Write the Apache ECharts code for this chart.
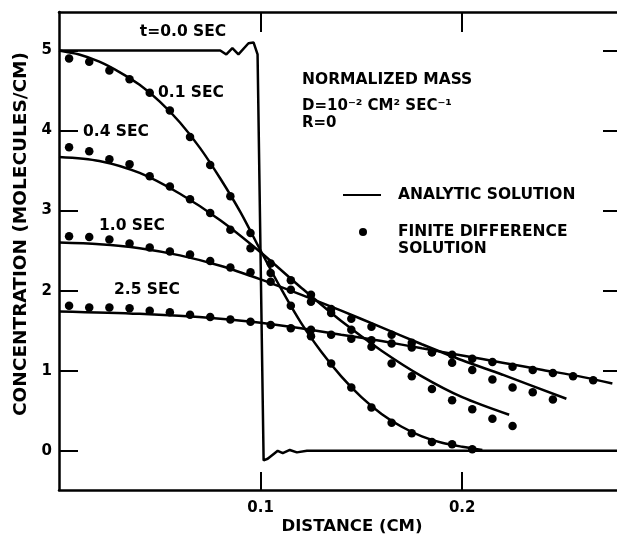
<!DOCTYPE html>
<html>
<head>
<meta charset="utf-8">
<script src="https://cdn.jsdelivr.net/npm/echarts@6/dist/echarts.min.js"></script>
<style>
html,body{margin:0;padding:0;background:#fff;}
#chart{width:617px;height:539px;}
</style>
</head>
<body>
<div id="chart"></div>
<script>
// ---- Data ----
const xTickValues = [0.1, 0.2];
const xTickLabels = ['0.1', '0.2'];
const yTickValues = [0, 1, 2, 3, 4, 5];
const yTickLabels = ['0', '1', '2', '3', '4', '5'];

// finite-difference points (x positions in cm)
const dotX = [0.005,0.015,0.025,0.035,0.045,0.055,0.065,0.075,0.085,0.095,0.105,0.115,0.125,0.135,0.145,0.155,0.165,0.175,0.185,0.195,0.205,0.215,0.225,0.235,0.245,0.255,0.265];
const fd01 = [4.90,4.86,4.75,4.64,4.47,4.25,3.92,3.57,3.18,2.72,2.22,1.81,1.43,1.09,0.79,0.54,0.35,0.22,0.11,0.08,0.02];
const fd04 = [3.79,3.74,3.64,3.58,3.43,3.30,3.14,2.97,2.76,2.53,2.34,2.13,1.95,1.72,1.51,1.30,1.09,0.93,0.77,0.63,0.52,0.40,0.31];
const fd10 = [2.68,2.67,2.64,2.59,2.54,2.49,2.45,2.37,2.29,2.23,2.11,2.01,1.86,1.77,1.65,1.55,1.45,1.35,1.23,1.10,1.01,0.89,0.79,0.73,0.64];
const fd25 = [1.81,1.79,1.79,1.78,1.75,1.73,1.70,1.67,1.64,1.61,1.57,1.53,1.51,1.45,1.40,1.38,1.34,1.29,1.23,1.20,1.15,1.11,1.05,1.01,0.97,0.93,0.88];

// analytic solutions
const an00X = [0,0.080,0.083,0.086,0.089,0.094,0.0965,0.0985,0.1015,0.1035,0.1065,0.1085,0.111,0.1145,0.118,0.123,0.2768];
const an00Y = [5,5,4.95,5.03,4.95,5.09,5.10,4.95,-0.12,-0.10,-0.04,0,-0.03,0.01,-0.02,0,0];
const an01X = [0,0.01,0.02,0.03,0.04,0.05,0.06,0.07,0.08,0.09,0.1,0.11,0.12,0.13,0.14,0.15,0.16,0.17,0.18,0.19,0.2,0.21];
const an01Y = [5.0,4.95,4.86,4.73,4.57,4.36,4.10,3.78,3.40,2.98,2.50,2.03,1.60,1.24,0.93,0.67,0.46,0.30,0.18,0.10,0.05,0.01];
const an04X = [0,0.02,0.04,0.06,0.08,0.1,0.12,0.14,0.16,0.18,0.2,0.2233];
const an04Y = [3.67,3.62,3.47,3.21,2.88,2.48,2.04,1.62,1.25,0.93,0.67,0.45];
const an10X = [0,0.02,0.04,0.06,0.08,0.1,0.12,0.14,0.16,0.18,0.2,0.22,0.2517];
const an10Y = [2.60,2.58,2.53,2.44,2.31,2.14,1.95,1.75,1.54,1.33,1.13,0.95,0.65];
const an25X = [0,0.04,0.08,0.1,0.12,0.14,0.16,0.18,0.2,0.22,0.24,0.26,0.2745];
const an25Y = [1.74,1.71,1.65,1.60,1.53,1.45,1.37,1.28,1.19,1.10,1.01,0.92,0.84];

const curveLabels = ['t=0.0 SEC', '0.1 SEC', '0.4 SEC', '1.0 SEC', '2.5 SEC'];

// ---- Chart ----
const FONT = '"DejaVu Sans", sans-serif';
const pair = (xs, ys) => ys.map((y, i) => [xs[i], y]);

const lineSeries = (xs, ys, smooth) => ({
  type: 'line', name: 'ANALYTIC SOLUTION', data: pair(xs, ys),
  showSymbol: false, symbol: 'none', smooth: smooth,
  lineStyle: { color: '#000', width: 2.5, opacity: 1 }, z: 2, silent: true
});
const dotSeries = (ys) => ({
  type: 'scatter', name: 'FINITE DIFFERENCE SOLUTION', data: pair(dotX, ys),
  symbol: 'circle', symbolSize: 8.5, itemStyle: { color: '#000', opacity: 1 }, z: 3, silent: true
});

const chart = echarts.init(document.getElementById('chart'), null, { renderer: 'canvas' });

const axisLineStyle = { show: true, onZero: false, lineStyle: { color: '#000', width: 2.5 } };
const tickStyle = { color: '#000', width: 2 };

function txt(text, x, y, size, align) {
  return {
    type: 'text', x: x, y: y,
    style: {
      text: text, fill: '#000', font: 'bold ' + size + 'px ' + FONT,
      textAlign: align || 'center', textVerticalAlign: 'middle'
    }
  };
}

const option = {
  animation: false,
  backgroundColor: '#fff',
  grid: { left: 59, top: 12, width: 562, height: 478, containLabel: false },
  xAxis: [
    {
      type: 'value', position: 'bottom', min: 0, max: 0.2768,
      axisLine: axisLineStyle,
      axisTick: { show: true, inside: true, length: 18, customValues: xTickValues, lineStyle: tickStyle },
      axisLabel: {
        show: true, customValues: xTickValues, margin: 11,
        formatter: v => xTickLabels[xTickValues.indexOf(v)] || '',
        color: '#000', fontFamily: FONT, fontWeight: 'bold', fontSize: 15
      },
      splitLine: { show: false }
    },
    {
      type: 'value', position: 'top', min: 0, max: 0.2768,
      axisLine: axisLineStyle,
      axisTick: { show: true, inside: true, length: 20, customValues: xTickValues, lineStyle: tickStyle },
      axisLabel: { show: false },
      splitLine: { show: false }
    }
  ],
  yAxis: [
    {
      type: 'value', position: 'left', min: -0.49, max: 5.48,
      axisLine: axisLineStyle,
      axisTick: { show: true, inside: true, length: 19, customValues: yTickValues, lineStyle: tickStyle },
      axisLabel: {
        show: true, customValues: yTickValues, margin: 7,
        formatter: v => yTickLabels[yTickValues.indexOf(v)] || '',
        color: '#000', fontFamily: FONT, fontWeight: 'bold', fontSize: 15
      },
      splitLine: { show: false }
    },
    {
      type: 'value', position: 'right', min: -0.49, max: 5.48,
      axisLine: { show: false, onZero: false },
      axisTick: { show: true, inside: true, length: 14, customValues: yTickValues, lineStyle: tickStyle },
      axisLabel: { show: false },
      splitLine: { show: false }
    }
  ],
  series: [
    lineSeries(an00X, an00Y, false),
    lineSeries(an01X, an01Y, 0.3),
    lineSeries(an04X, an04Y, 0.3),
    lineSeries(an10X, an10Y, 0.3),
    lineSeries(an25X, an25Y, 0.3),
    dotSeries(fd01),
    dotSeries(fd04),
    dotSeries(fd10),
    dotSeries(fd25)
  ],
  graphic: [
    // axis titles
    Object.assign(txt('CONCENTRATION (MOLECULES/CM)', 21, 234, 18.5), { rotation: Math.PI / 2 }),
    txt('DISTANCE (CM)', 352, 527, 16.5),
    // curve labels
    txt(curveLabels[0], 183, 32, 15.5),
    txt(curveLabels[1], 191, 93, 15.5),
    txt(curveLabels[2], 116, 132, 15.5),
    txt(curveLabels[3], 132, 226, 15.5),
    txt(curveLabels[4], 147, 290, 15.5),
    // annotation block
    txt('NORMALIZED MASS', 302, 80, 15.5, 'left'),
    txt('D=10\u207B\u00B2 CM\u00B2 SEC\u207B\u00B9', 302, 106, 15, 'left'),
    txt('R=0', 302, 123, 15, 'left'),
    // legend
    { type: 'line', shape: { x1: 343, y1: 195, x2: 381, y2: 195 }, style: { stroke: '#000', lineWidth: 2 } },
    txt('ANALYTIC SOLUTION', 398, 195, 15.5, 'left'),
    { type: 'circle', shape: { cx: 363, cy: 232, r: 4 }, style: { fill: '#000' } },
    txt('FINITE DIFFERENCE', 398, 232, 15.5, 'left'),
    txt('SOLUTION', 398, 249, 15.5, 'left')
  ]
};

chart.setOption(option);
</script>
</body>
</html>
